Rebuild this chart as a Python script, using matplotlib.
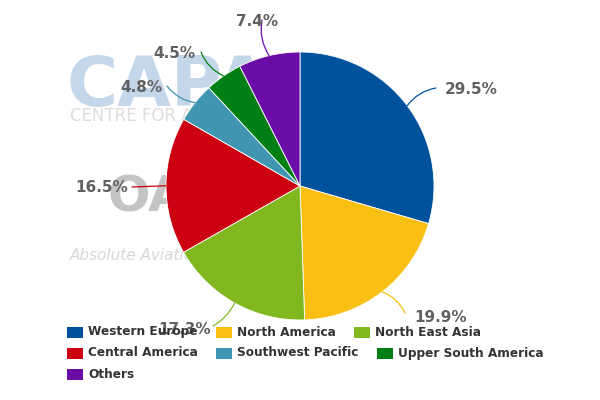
import numpy as np
import matplotlib.pyplot as plt
from matplotlib.patches import Rectangle

# Share of capacity by region (%)
regions = ['Western Europe', 'North America', 'North East Asia', 'Central America',
           'Southwest Pacific', 'Upper South America', 'Others']
shares = [29.5, 19.9, 17.3, 16.5, 4.8, 4.5, 7.4]
colors = ['#01529c', '#f9c013', '#82b81f', '#cc0010', '#4096b0', '#008014', '#6c0ca6']

# label text positions (pixels from top-left), connector ends and curvature
label_pos = [(445, 90), (414, 317), (158, 329), (75, 187), (120, 87), (153, 53), (236, 22)]
conn_end = [(436, 88), (405, 313), (213, 326), (132, 187), (167, 86), (201, 52), (262, 20)]
conn_rad = [0.2, 0.2, 0.15, 0.0, 0.2, 0.2, 0.2]

fig = plt.figure(figsize=(6, 4), dpi=100)
ax = fig.add_axes([0, 0, 1, 1])

H = 400  # flip pixel y

# faint watermark
ax.text(66, H - 106, 'CAPA', fontsize=50, fontweight='bold', color='#c3d6ea', zorder=0)
ax.text(70, H - 121, 'CENTRE FOR AVIATION', fontsize=12, color='#dddddd', zorder=0)
ax.text(108, H - 212, 'OAG', fontsize=36, fontweight='bold', color='#c4c4c4', zorder=0)
ax.text(70, H - 260, 'Absolute Aviation Intelligence', fontsize=11, style='italic',
        color='#d8d8d8', zorder=0)

cx, cy, r = 300, H - 186, 134
wedges, _ = ax.pie(shares, colors=colors, startangle=90, counterclock=False,
                   center=(cx, cy), radius=r, frame=True,
                   wedgeprops=dict(edgecolor='white', linewidth=0.6))
for w in wedges:
    w.set_zorder(2)
ax.set_xlim(0, 600)
ax.set_ylim(0, 400)
ax.set_aspect('equal')
ax.axis('off')

for w, v, c, (tx, ty), (ex, ey), rad in zip(wedges, shares, colors, label_pos, conn_end, conn_rad):
    th = np.deg2rad((w.theta1 + w.theta2) / 2)
    px, py = cx + r * np.cos(th), cy + r * np.sin(th)
    ax.annotate('', xy=(px, py), xytext=(ex, H - ey),
                arrowprops=dict(arrowstyle='-', color=c, lw=0.9,
                                connectionstyle=f'arc3,rad={rad}', shrinkA=0, shrinkB=0),
                zorder=3)
    ax.text(tx, H - ty, f'{v}%', fontsize=11, fontweight='bold', color='#606060',
            ha='left', va='center', zorder=3)

# legend laid out like the original
leg_xy = [(67, 332), (216, 332), (354, 332), (67, 353), (216, 353), (377, 353), (67, 374)]
for name, c, (lx, ly) in zip(regions, colors, leg_xy):
    ax.add_patch(Rectangle((lx, H - ly - 5.5), 16, 11, facecolor=c, edgecolor='none', zorder=4))
    ax.text(lx + 21, H - ly, name, fontsize=8.7, fontweight='bold', color='#333333',
            ha='left', va='center', zorder=5)

fig.savefig('out.png', dpi=100)
